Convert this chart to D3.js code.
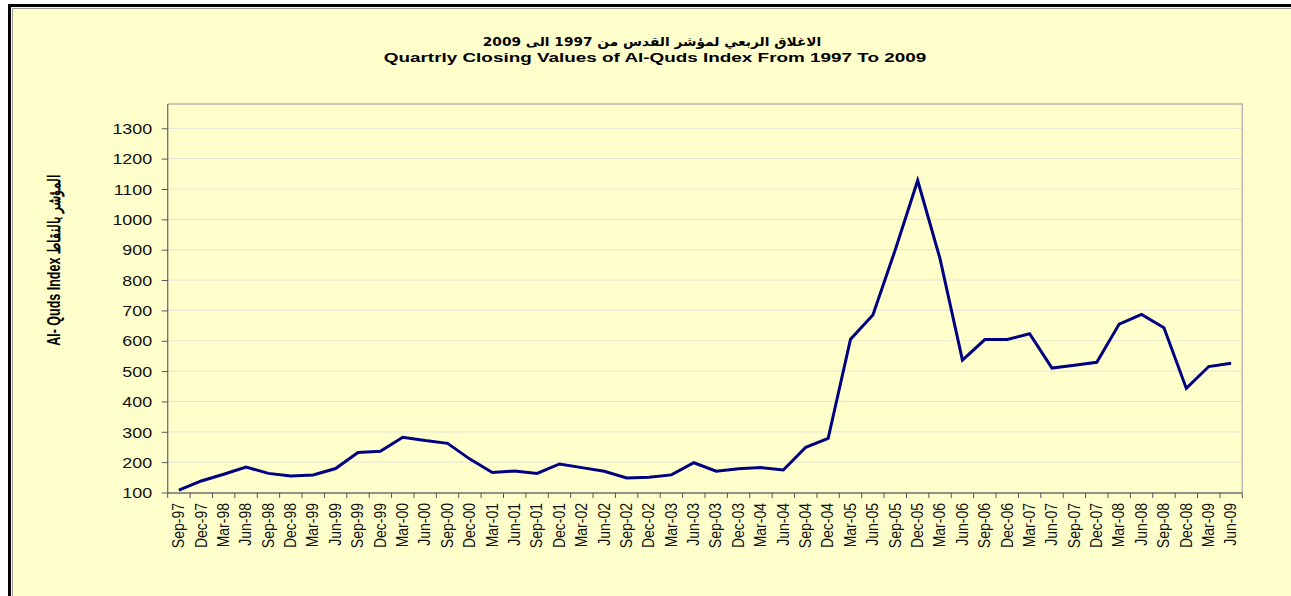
<!DOCTYPE html>
<html>
<head>
<meta charset="utf-8">
<script src="https://cdn.jsdelivr.net/npm/d3@7"></script>
<style>
  html, body { margin: 0; padding: 0; background: #fff; }
  svg { display: block; }
</style>
</head>
<body>
<div id="chart"></div>
<script>
// quarterly closing values, Sep-97 .. Jun-09
const quarters = [
  "Sep-97","Dec-97","Mar-98","Jun-98","Sep-98","Dec-98","Mar-99","Jun-99",
  "Sep-99","Dec-99","Mar-00","Jun-00","Sep-00","Dec-00","Mar-01","Jun-01",
  "Sep-01","Dec-01","Mar-02","Jun-02","Sep-02","Dec-02","Mar-03","Jun-03",
  "Sep-03","Dec-03","Mar-04","Jun-04","Sep-04","Dec-04","Mar-05","Jun-05",
  "Sep-05","Dec-05","Mar-06","Jun-06","Sep-06","Dec-06","Mar-07","Jun-07",
  "Sep-07","Dec-07","Mar-08","Jun-08","Sep-08","Dec-08","Mar-09","Jun-09"
];
const closing = [
  108, 138, 160, 184, 163, 154, 158, 179,
  232, 236, 282, 271, 262, 210, 166, 171,
  163, 194, 182, 170, 148, 150, 158, 198,
  170, 178, 182, 174, 249, 278, 605, 685,
  900, 1128, 870, 536, 604, 604, 623, 510,
  519, 529, 655, 687, 643, 443, 515, 526
];
const yTicks = [100,200,300,400,500,600,700,800,900,1000,1100,1200,1300];

const titleAr = "الاغلاق الربعي لمؤشر القدس من 1997 الى  2009";
const titleEn = "Quartrly Closing Values of Al-Quds Index From 1997 To  2009";
const yLabel = "Al- Quds Index المؤشر بالنقاط";

const W = 1291, H = 596;
const plot = {left: 167.7, right: 1242.3, top: 104, bottom: 493};
const stretch = 1.28;   // text in the picture is wider than tall

const svg = d3.select("#chart").append("svg")
  .attr("width", W)
  .attr("height", H)
  .style("font-family", "Arial, 'Liberation Sans', sans-serif");

// outer frame
svg.append("rect")
  .attr("x", 9.5).attr("y", 5.5)
  .attr("width", W + 20).attr("height", H + 20)
  .attr("fill", "#FFFFCC")
  .attr("stroke", "#000").attr("stroke-width", 3);
svg.append("path")
  .attr("d", `M12.5,${H + 10} V8.5 H${W + 10}`)
  .attr("fill", "none")
  .attr("stroke", "#9a9a9a").attr("stroke-width", 1);

const x = d3.scaleBand()
  .domain(quarters)
  .range([plot.left, plot.right])
  .padding(0);
const y = d3.scaleLinear()
  .domain([100, 1300])
  .range([492.5, 128.3]);

// gridlines
svg.append("g")
  .selectAll("line")
  .data(yTicks.slice(1))
  .enter()
  .append("line")
    .attr("x1", plot.left).attr("x2", plot.right)
    .attr("y1", d => y(d)).attr("y2", d => y(d))
    .attr("stroke", "#E9E8D6")
    .attr("stroke-width", 1.2);

// plot border (top / right lighter)
svg.append("path")
  .attr("d", `M${plot.left},${plot.top} H${plot.right} V${plot.bottom}`)
  .attr("fill", "none")
  .attr("stroke", "#B8B8B0").attr("stroke-width", 1.5);

// y axis
const yAxis = svg.append("g")
  .attr("transform", `translate(${plot.left},0)`)
  .call(d3.axisLeft(y).tickValues(yTicks).tickFormat(d3.format("d")).tickSize(6).tickPadding(10));
yAxis.select(".domain")
  .attr("d", `M0,${plot.top} V${plot.bottom}`)
  .attr("stroke", "#6e6e6e").attr("stroke-width", 1.3);
yAxis.selectAll(".tick line").attr("stroke", "#555");
yAxis.selectAll(".tick text")
  .attr("fill", "#111")
  .style("font-size", "14px")
  .attr("x", null).attr("dy", null)
  .attr("dominant-baseline", "central")
  .attr("text-anchor", "end")
  .attr("transform", `translate(-15.5,0) scale(${stretch},1)`);

// x axis: labels at category centres, ticks at category boundaries
const xAxis = svg.append("g")
  .attr("transform", `translate(0,${plot.bottom})`)
  .call(d3.axisBottom(x).tickSize(0).tickPadding(0));
xAxis.select(".domain")
  .attr("d", `M${plot.left},0 H${plot.right}`)
  .attr("stroke", "#6e6e6e").attr("stroke-width", 1.3);
xAxis.selectAll(".tick text")
  .attr("fill", "#111")
  .style("font-size", "14px")
  .attr("y", null).attr("dy", null)
  .attr("text-anchor", "end")
  .attr("dominant-baseline", "central")
  .attr("transform", `translate(0,10) scale(1.12,1) rotate(-90)`);

xAxis.append("g")
  .selectAll("line")
  .data(quarters.map(q => x(q)).concat([plot.right]))
  .enter()
  .append("line")
    .attr("x1", d => d).attr("x2", d => d)
    .attr("y1", 0).attr("y2", 5)
    .attr("stroke", "#555");

// the series
const line = d3.line()
  .x((d, i) => x(quarters[i]) + x.bandwidth() / 2)
  .y(d => y(d));
svg.append("path")
  .datum(closing)
  .attr("d", line)
  .attr("fill", "none")
  .attr("stroke", "#000080")
  .attr("stroke-width", 3)
  .attr("stroke-linejoin", "miter");

// titles
svg.append("text")
  .attr("transform", `translate(652,46) scale(1.1,1)`)
  .attr("text-anchor", "middle")
  .attr("direction", "rtl")
  .style("font-size", "12.5px")
  .style("font-weight", "bold")
  .style("font-family", "'DejaVu Sans', Arial, sans-serif")
  .text(titleAr);
svg.append("text")
  .attr("transform", `translate(655,62) scale(1.4,1)`)
  .attr("text-anchor", "middle")
  .style("font-size", "13.5px")
  .style("font-weight", "bold")
  .text(titleEn);

// y axis title
svg.append("text")
  .attr("transform", `translate(54,260) scale(1.4,1) rotate(-90)`)
  .attr("text-anchor", "middle")
  .attr("dominant-baseline", "central")
  .style("font-size", "12.5px")
  .style("font-weight", "bold")
  .text(yLabel);
</script>
</body>
</html>
